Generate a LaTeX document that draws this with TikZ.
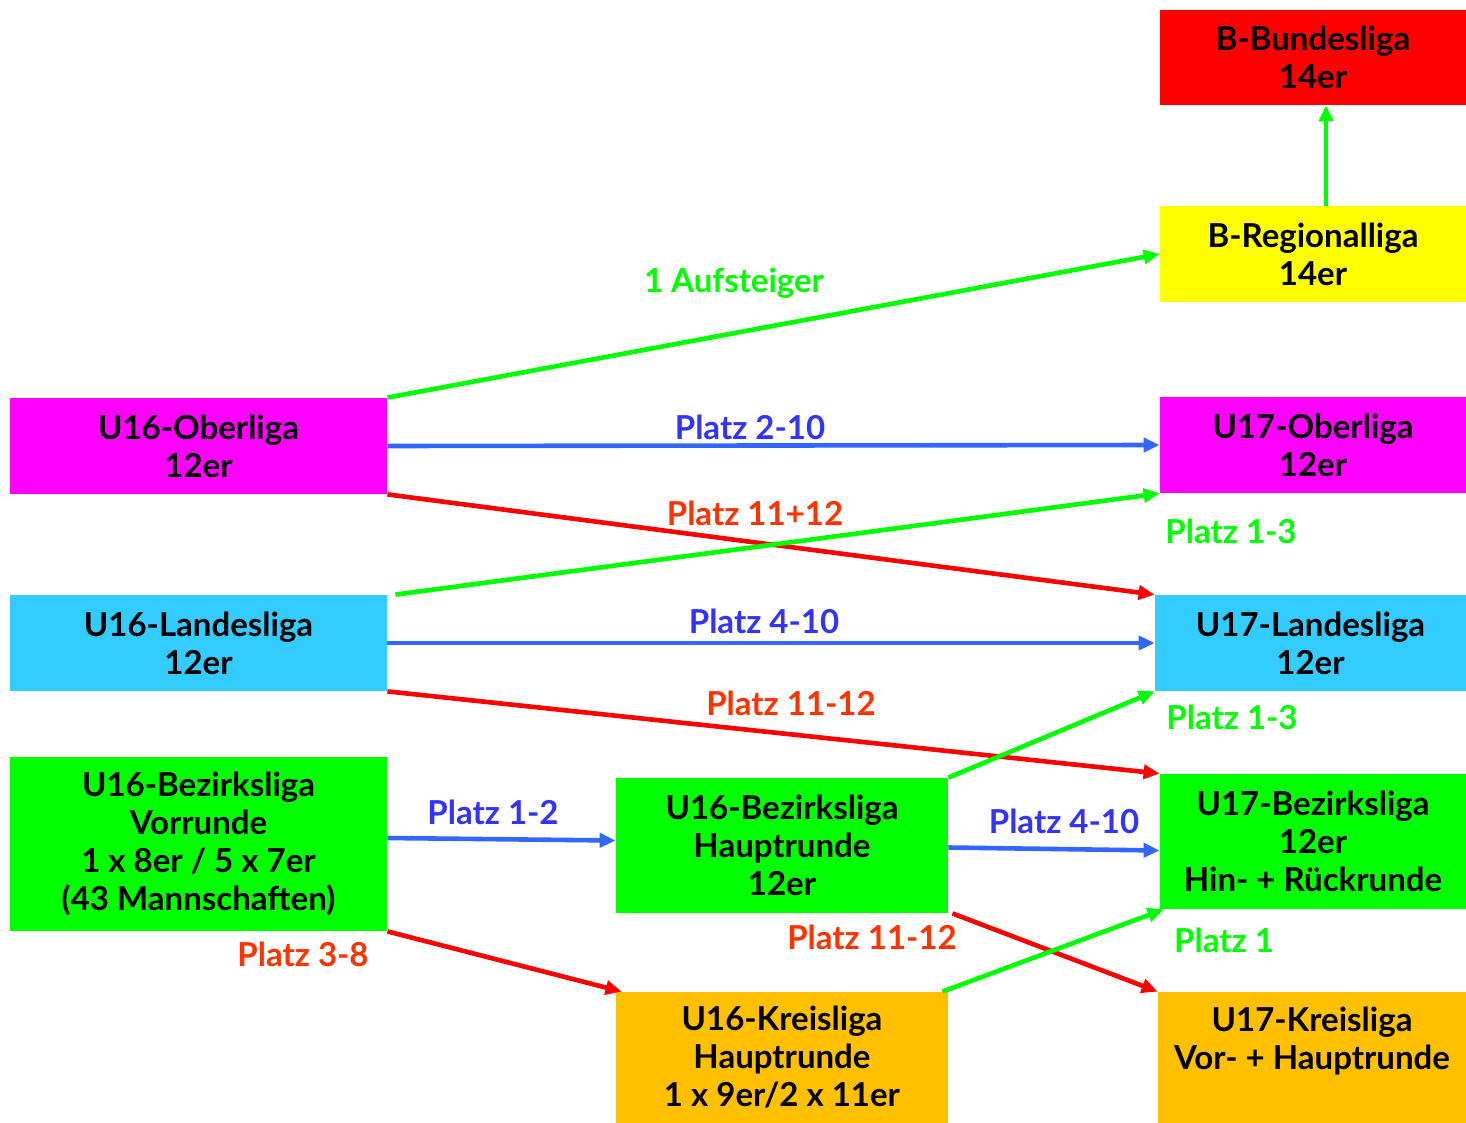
\documentclass[tikz,border=0pt]{standalone}
\usepackage{fontspec}
\setmainfont{Lato}
\usepackage{xcolor}
\usetikzlibrary{arrows.meta}
\definecolor{ligared}{HTML}{FF0000}
\definecolor{ligayellow}{HTML}{FFFF00}
\definecolor{ligamagenta}{HTML}{FF00FF}
\definecolor{ligacyan}{HTML}{33CCFF}
\definecolor{ligagreen}{HTML}{00FF00}
\definecolor{ligaorange}{HTML}{FFC000}
\definecolor{upblue}{HTML}{3366FF}
\definecolor{upbluetext}{HTML}{3333FF}
\definecolor{downred}{HTML}{FF0000}
\definecolor{downredtext}{HTML}{FF3300}
\tikzset{
  liga/.style={inner sep=0pt, align=center, font=\fontsize{16.5}{19}\selectfont\bfseries},
  pfeil/.style={line width=2.3pt, -{Triangle[length=8pt,width=7pt]}},
  platz/.style={inner sep=0pt, font=\fontsize{16.5}{19}\selectfont\bfseries}
}

\begin{document}
\begin{tikzpicture}[x=0.5pt,y=-0.5pt]
\useasboundingbox (0,0) rectangle (1466,1123);

\node[liga, fill=ligared, minimum width=153pt, minimum height=47.5pt] (bund) at (1313,57.5) {B-Bundesliga\\14er};
\node[liga, fill=ligayellow, minimum width=153pt, minimum height=48pt] (regio) at (1313,254) {B-Regionalliga\\14er};
\node[liga, fill=ligamagenta, minimum width=153pt, minimum height=48pt] (ober17) at (1313,445) {U17-Oberliga\\12er};
\node[liga, fill=ligacyan, minimum width=155.5pt, minimum height=48pt] (landes17) at (1310.5,643) {U17-Landesliga\\12er};
\node[liga, fill=ligagreen, minimum width=153pt, minimum height=67.5pt] (bezirk17) at (1313,841.5) {U17-Bezirksliga\\12er\\Hin- + Rückrunde};
\node[liga, fill=ligaorange, minimum width=154pt, minimum height=65.5pt] (kreis17) at (1312,1057.5) {U17-Kreisliga\\Vor- + Hauptrunde\\\mbox{}};

\node[liga, fill=ligamagenta, minimum width=188.5pt, minimum height=48pt] (ober16) at (198.5,446) {U16-Oberliga\\12er};
\node[liga, fill=ligacyan, minimum width=188.5pt, minimum height=48pt] (landes16) at (198.5,643) {U16-Landesliga\\12er};
\node[liga, fill=ligagreen, minimum width=188.5pt, minimum height=87pt] (vorrunde16) at (198.5,844) {U16-Bezirksliga\\Vorrunde\\1 x 8er / 5 x 7er\\(43 Mannschaften)};
\node[liga, fill=ligagreen, minimum width=166pt, minimum height=67.5pt] (haupt16) at (782,845.5) {U16-Bezirksliga\\Hauptrunde\\12er};
\node[liga, fill=ligaorange, minimum width=166pt, minimum height=65.5pt] (kreis16) at (782,1057.5) {U16-Kreisliga\\Hauptrunde\\1 x 9er/2 x 11er};

\draw[pfeil, ligagreen] ([xshift=6.5pt]regio.north) -- ([xshift=6.5pt]bund.south);
\draw[pfeil, ligagreen] (ober16.north east) -- (regio.west);
\draw[pfeil, upblue] (ober16.east) -- (ober17.west);
\draw[pfeil, downred] (ober16.south east) -- (landes17.north west);
\draw[pfeil, ligagreen] ([xshift=4pt]landes16.north east) -- (ober17.south west);
\draw[pfeil, upblue] (landes16.east) -- (landes17.west);
\draw[pfeil, downred] (landes16.south east) -- (bezirk17.north west);
\draw[pfeil, ligagreen] (haupt16.north east) -- (landes17.south west);
\draw[pfeil, upblue] ([yshift=3pt]vorrunde16.east) -- ([yshift=2.5pt]haupt16.west);
\draw[pfeil, downred] (vorrunde16.south east) -- ([xshift=3pt]kreis16.north west);
\draw[pfeil, upblue] ([yshift=-1pt]haupt16.east) -- ([yshift=-4.5pt]bezirk17.west);
\draw[pfeil, downred] ([xshift=2pt]haupt16.south east) -- (kreis17.north west);
\draw[pfeil, ligagreen] ([xshift=-3pt]kreis16.north east) -- ([xshift=2pt]bezirk17.south west);

\node[platz, text=ligagreen] (aufsteiger) at (734,283) {1 Aufsteiger};
\node[platz, text=upbluetext] (platzober) at (750,427) {Platz 2-10};
\node[platz, text=downredtext] (abstiegober) at (755,513) {Platz 11+12};
\node[platz, text=ligagreen] (aufstiegober) at (1231,531) {Platz 1-3};
\node[platz, text=upbluetext] (platzlandes) at (764,621) {Platz 4-10};
\node[platz, text=downredtext] (abstieglandes) at (791,703) {Platz 11-12};
\node[platz, text=ligagreen] (aufstieglandes) at (1232,717) {Platz 1-3};
\node[platz, text=upbluetext] (platzvorrunde) at (493,812) {Platz 1-2};
\node[platz, text=downredtext] (abstiegvorrunde) at (303,954) {Platz 3-8};
\node[platz, text=upbluetext] (platzhaupt) at (1064,821) {Platz 4-10};
\node[platz, text=downredtext] (abstieghaupt) at (872,937) {Platz 11-12};
\node[platz, text=ligagreen] (aufstiegkreis) at (1224,940) {Platz 1};

\end{tikzpicture}
\end{document}
